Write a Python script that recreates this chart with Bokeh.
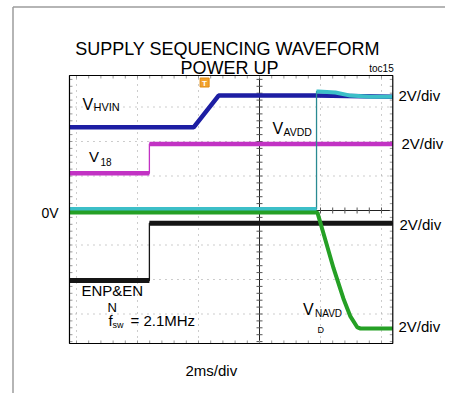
import numpy as np
from bokeh.plotting import figure
from bokeh.models import Range1d, Label
from bokeh.embed import file_html
from bokeh.resources import INLINE

# ---------------- data (time in ms, 2 ms/div; level in screen divisions, 2 V/div) -------------
hvin_t = [-6.23, -2.16, -1.34, 1.87, 4.36]
hvin_div = [2.41, 2.41, 3.33, 3.33, 3.30]

v18_t = [-6.23, -3.61, -3.61, 4.36]
v18_div = [1.08, 1.08, 1.93, 1.93]

enp_t = [-6.23, -3.61, -3.61, 4.36]
enp_div = [-2.03, -2.03, -0.37, -0.37]

avdd_t = [-6.23, 1.87, 1.87, 1.93, 2.49, 2.98, 3.64, 4.36]
avdd_div = [0.04, 0.04, 3.45, 3.45, 3.42, 3.33, 3.30, 3.30]

navdd_t = [-6.23, 1.90, 2.07, 2.43, 2.75, 2.98, 3.21, 3.31, 4.36]
navdd_div = [-0.06, -0.06, -0.58, -1.68, -2.55, -3.07, -3.39, -3.42, -3.42]

trigger_t = [-1.80]
trigger_div = [3.71]

grid_t = [-6, -4, -2, 2, 4]          # ms
grid_div = [-3, -2, -1, 1, 2, 3]      # divisions

channel_labels = ["2V/div", "2V/div", "2V/div", "2V/div"]

# ---------------- layout constants ----------------
W, H = 445, 393          # canvas
PAGE = 0                 # observed offset of the canvas in the screenshot
OX, OY = 259.0, 210.0    # screen centre of the scope graticule (image px)
PX_MS, PX_DIV = 30.5, 34.5
SCOPE_T = (-6.23, 4.37)
SCOPE_D = (-3.855, 3.913)
FONT = "Liberation Sans"
BASELINE_FIX = 0.35      # text renders a bit low with alphabetic baseline


def tx(px):
    return (px - OX) / PX_MS


def dy(py):
    return (OY - py) / PX_DIV


p = figure(width=W, height=H, output_backend="svg", toolbar_location=None,
           x_range=Range1d(tx(PAGE), tx(PAGE + W)),
           y_range=Range1d(dy(PAGE + H), dy(PAGE)),
           x_axis_type=None, y_axis_type=None, min_border=0,
           outline_line_color=None, background_fill_color="white",
           border_fill_color="white")

# outer gray frame of the page image
p.segment(x0=[tx(12.5), tx(12.5)], y0=[dy(6.5), dy(6.5)],
          x1=[tx(12.5), tx(PAGE + W)], y1=[dy(PAGE + H), dy(6.5)],
          line_color="#9c9c9c", line_width=1.5)

# graticule: dotted grid
t0, t1 = SCOPE_T
d0, d1 = SCOPE_D
p.segment(x0=grid_t, y0=[d0] * len(grid_t), x1=grid_t, y1=[d1] * len(grid_t),
          line_color="#9a9a9a", line_width=1, line_dash="1 5")
p.segment(x0=[t0] * len(grid_div), y0=grid_div, x1=[t1] * len(grid_div), y1=grid_div,
          line_color="#9a9a9a", line_width=1, line_dash="1 5")

# centre cross with ticks
p.segment(x0=[0, t0], y0=[d0, 0], x1=[0, t1], y1=[d1, 0], line_color="#222222", line_width=1)
dticks = np.arange(-3.8, 3.81, 0.2)
tticks = np.arange(-6.0, 4.21, 0.4)
hx = 3 / PX_MS
hy = 3 / PX_DIV
p.segment(x0=[-hx] * len(dticks), y0=dticks, x1=[hx] * len(dticks), y1=dticks,
          line_color="#555555", line_width=1)
p.segment(x0=tticks, y0=[-hy] * len(tticks), x1=tticks, y1=[hy] * len(tticks),
          line_color="#555555", line_width=1)
# edge ticks
ex = 3 / PX_MS
ey = 3 / PX_DIV
p.segment(x0=[t0] * len(dticks), y0=dticks, x1=[t0 + ex] * len(dticks), y1=dticks,
          line_color="#999999", line_width=1)
p.segment(x0=[t1 - ex] * len(dticks), y0=dticks, x1=[t1] * len(dticks), y1=dticks,
          line_color="#999999", line_width=1)
p.segment(x0=tticks, y0=[d1] * len(tticks), x1=tticks, y1=[d1 - ey] * len(tticks),
          line_color="#999999", line_width=1)
p.segment(x0=tticks, y0=[d0] * len(tticks), x1=tticks, y1=[d0 + ey] * len(tticks),
          line_color="#999999", line_width=1)


def trace(t, d, color, width, edge_color=None):
    t = np.asarray(t, float)
    d = np.asarray(d, float)
    p.line(t, d, line_color=edge_color or color, line_width=1.3)
    tt, dd = [t[0]], [d[0]]
    for i in range(1, len(t)):
        if abs(t[i] - t[i - 1]) < 0.05:
            tt.append(np.nan)
            dd.append(np.nan)
        tt.append(t[i])
        dd.append(d[i])
    p.line(tt, dd, line_color=color, line_width=width)


trace(enp_t, enp_div, "#151515", 5)
trace(v18_t, v18_div, "#c232c4", 4.5)
trace(hvin_t, hvin_div, "#1d1ea3", 4.5)
trace(avdd_t, avdd_div, "#3cbfc8", 4, edge_color="#2a8a92")
trace(navdd_t, navdd_div, "#25a025", 4)

# scope frame
p.quad(left=[t0], right=[t1], bottom=[d0], top=[d1], fill_color=None,
       line_color="black", line_width=1.2)

# trigger marker
p.scatter(trigger_t, trigger_div, marker="square", size=9, fill_color="#f2a22c",
          line_color="#e08a10")


def txt(x_px, y_px, s, size, align="left", color="black", bold=False):
    y_px = y_px - BASELINE_FIX * size
    p.add_layout(Label(x=tx(x_px), y=dy(y_px), text=s, text_font=FONT,
                       text_font_size=f"{size}px", text_align=align,
                       text_baseline="alphabetic", text_color=color,
                       text_font_style="bold" if bold else "normal"))


txt(204, 85.5, "T", 8, align="center", color="white", bold=True)

txt(227, 55, "SUPPLY SEQUENCING WAVEFORM", 18, align="center")
txt(229, 74, "POWER UP", 18, align="center")
txt(381, 71, "toc15", 10, align="center")

txt(82, 110, "V", 16)
txt(93, 110, "HVIN", 11)
txt(272, 134, "V", 16)
txt(283, 135, "AVDD", 10.5)
txt(88.5, 161.5, "V", 15)
txt(100, 164.5, "18", 10)
txt(41, 217.5, "0V", 14)

for (xp, yp), s in zip([(398, 100.5), (401, 148.5), (399, 229.5), (398, 331.5)], channel_labels):
    txt(xp, yp, s, 15)

txt(81, 295.5, "ENP&EN", 15)
txt(107, 311.7, "N", 13)
txt(108, 325, "f", 15)
txt(112, 327.5, "sw", 9)
txt(130, 325, "= 2.1MHz", 15)
txt(302.5, 314.5, "V", 16)
txt(314.5, 316, "NAVD", 10)
txt(317, 333, "D", 9)
txt(185, 375, "2ms/div", 15)

open("out.html", "w").write(file_html(p, INLINE))
